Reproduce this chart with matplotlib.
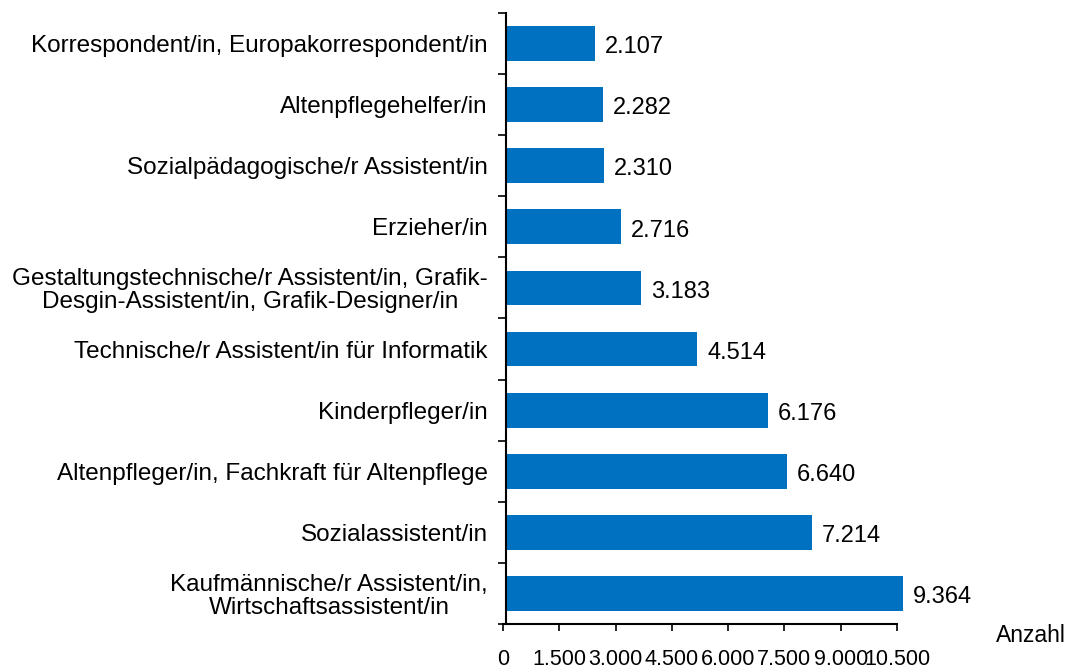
import matplotlib
matplotlib.use('Agg')
import matplotlib.pyplot as plt

plt.rcParams['font.family'] = ['Liberation Sans', 'DejaVu Sans']

# Data (top to bottom as shown)
berufe = [
    'Korrespondent/in, Europakorrespondent/in',
    'Altenpflegehelfer/in',
    'Sozialpädagogische/r Assistent/in',
    'Erzieher/in',
    'Gestaltungstechnische/r Assistent/in, Grafik-\nDesgin-Assistent/in, Grafik-Designer/in',
    'Technische/r Assistent/in für Informatik',
    'Kinderpfleger/in',
    'Altenpfleger/in, Fachkraft für Altenpflege',
    'Sozialassistent/in',
    'Kaufmännische/r Assistent/in,\nWirtschaftsassistent/in',
]
anzahl = [2107, 2282, 2310, 2716, 3183, 4514, 6176, 6640, 7214, 9364]
value_labels = ['2.107', '2.282', '2.310', '2.716', '3.183', '4.514', '6.176', '6.640', '7.214', '9.364']
x_ticks = [0, 1500, 3000, 4500, 6000, 7500, 9000, 10500]
x_ticklabels = ['0', '1.500', '3.000', '4.500', '6.000', '7.500', '9.000', '10.500']

W, H = 1071, 665
fig = plt.figure(figsize=(W / 100, H / 100), dpi=100)

# main axes with the bars
ax = fig.add_axes([506 / W, (H - 624) / H, (951 - 506) / W, (624 - 13) / H])
n = len(berufe)
ypos = list(range(n))
ax.barh(ypos, anzahl, height=0.57, color='#0070c0')
ax.set_xlim(0, 10500)
ax.set_ylim(n - 0.5, -0.5)

for y, v, lab in zip(ypos, anzahl, value_labels):
    ax.text(v + 230, y + 0.06, lab, va='center', ha='left', fontsize=17)

# category labels placed between boundary ticks
ax.set_yticks([i - 0.5 for i in range(n + 1)])
ax.set_yticklabels([])
ax.set_yticks(ypos, minor=True)
ax.set_yticklabels(berufe, minor=True, fontsize=17.5, multialignment='center',
                   linespacing=1.05)
ax.tick_params(axis='y', which='major', length=5.8, width=1.2, direction='out')
ax.tick_params(axis='y', which='minor', length=0, pad=13)
ax.set_xticks([])
for s in ['top', 'right', 'bottom']:
    ax.spines[s].set_visible(False)
ax.spines['left'].set_linewidth(1.5)

# value axis drawn separately, as in the original graphic
ax2 = fig.add_axes([503 / W, (H - 624) / H, (897 - 503) / W, 0.0001])
ax2.set_xlim(0, 10500)
ax2.set_xticks(x_ticks)
ax2.set_xticklabels(x_ticklabels, fontsize=15.5)
ax2.tick_params(axis='x', length=5, width=1.2, direction='out', pad=13)
ax2.set_yticks([])
ax2.patch.set_visible(False)
for s in ['top', 'right', 'left']:
    ax2.spines[s].set_visible(False)
ax2.spines['bottom'].set_linewidth(1.5)

fig.text(1066 / W, 1 - 635 / H, 'Anzahl', ha='right', va='center', fontsize=16.5)

fig.savefig('out.png', dpi=100)
